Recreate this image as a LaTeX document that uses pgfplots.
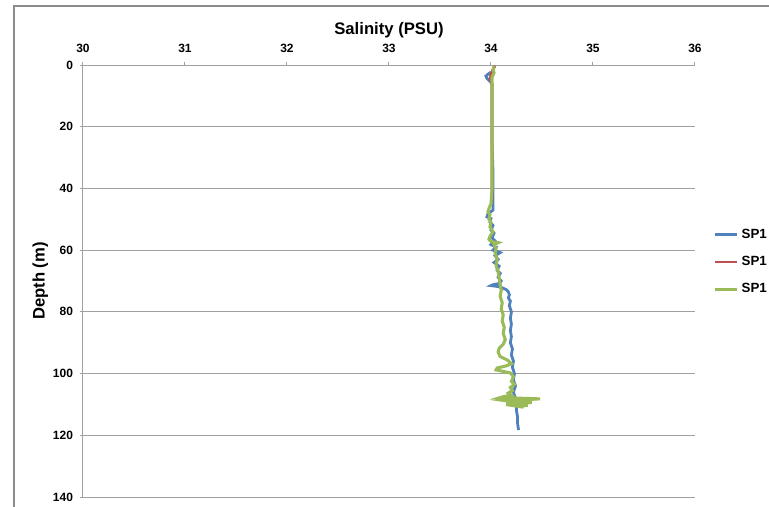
\documentclass[border=0pt]{standalone}
\usepackage{fontspec}
\setmainfont{Liberation Sans}
\usepackage{pgfplots}
\pgfplotsset{compat=1.18}
\usetikzlibrary{calc}

\definecolor{sblue}{RGB}{79,129,189}
\definecolor{sred}{RGB}{192,80,77}
\definecolor{sgreen}{RGB}{155,187,89}
\definecolor{gridgray}{RGB}{160,160,160}

\begin{document}
\begin{tikzpicture}
\begin{axis}[
    name=ax,
    scale only axis,
    width=459pt, height=324pt,
    xmin=30, xmax=36,
    ymin=0, ymax=140,
    y dir=reverse,
    axis x line*=top,
    axis y line*=left,
    xtick={30,31,...,36},
    ytick={0,20,...,140},
    ymajorgrids,
    grid style={gridgray, line width=0.75pt},
    axis line style={gridgray, line width=0.75pt},
    tick style={gridgray, line width=0.75pt},
    tick align=outside,
    major tick length=2.5pt,
    /pgf/number format/assume math mode=true,
    tick label style={font=\bfseries\fontsize{9}{10}\selectfont},
    xticklabel style={yshift=3.5pt},
    yticklabel style={xshift=-1.5pt},
    every axis x label/.style={at={(axis description cs:0.5,1)}, yshift=26pt, anchor=center},
    every axis y label/.style={at={(axis description cs:0,0.5)}, xshift=-32pt, rotate=90, anchor=center},
    xlabel={\bfseries\fontsize{12.5}{14}\selectfont Salinity (PSU)},
    ylabel={\bfseries\fontsize{12.5}{14}\selectfont Depth (m)},
    legend style={at={(axis description cs:1,0.544)}, anchor=west, xshift=10.5pt,
        draw=none, fill=none, font=\bfseries\fontsize{10}{12}\selectfont,
        row sep=8pt},
    legend cell align=left,
    legend image code/.code={\draw[#1] (0pt,0pt) -- (17pt,0pt);},
]
\addplot[sblue, line width=2.1pt] coordinates {
(34.00,2.3) (33.97,3.0) (33.95,3.6) (33.96,4.3) (33.98,5.0) (34.00,5.6) (34.01,6.5)
(34.01,15) (34.01,25) (34.02,35) (34.02,42) (34.02,47) (33.97,48.3) (33.96,49.2)
(34.00,49.8) (33.99,51) (34.02,52) (34.00,53.5) (34.03,54.5) (34.01,56) (34.04,57)
(34.00,58.2) (34.05,59) (34.02,60) (34.09,60.8) (34.04,61.8) (34.07,63) (34.03,64)
(34.08,65.2) (34.06,66.5) (34.09,67.5) (34.07,68.8) (34.10,70) (34.08,70.8)
(34.02,71.2) (34.00,71.5) (34.07,71.8) (34.11,72.2) (34.15,72.8) (34.17,73.5)
(34.18,74.5) (34.17,75.5) (34.19,76.5) (34.18,78) (34.20,80) (34.19,82) (34.20,84)
(34.19,86) (34.20,88) (34.19,90) (34.21,92) (34.20,94) (34.22,96) (34.21,98)
(34.23,100) (34.22,102) (34.24,104) (34.22,106) (34.24,108) (34.25,110)
(34.25,112) (34.26,114) (34.26,116) (34.27,118.3)
};
\addlegendentry{SP1}
\addplot[sred, line width=2.1pt] coordinates {
(34.04,0.3) (34.03,0.8) (34.02,1.5) (34.00,3) (33.99,4.5) (34.01,6)
(34.01,15) (34.01,30) (34.01,44)
};
\addlegendentry{SP1}
\addplot[sgreen, line width=2.3pt] coordinates {
(34.03,0.4) (34.02,1.5) (34.03,2.5) (34.01,4) (34.01,10) (34.01,20) (34.01,30)
(34.01,40) (34.00,45) (33.98,46.5) (33.97,47.5) (33.99,48.5) (33.98,50) (34.00,51)
(33.99,52.5) (34.02,54) (33.99,55.5) (33.98,56.5) (34.00,57.2) (34.07,57.6)
(34.03,58.2) (34.05,59.5) (34.04,61) (34.06,63) (34.05,65) (34.07,67) (34.08,69)
(34.09,71) (34.10,73) (34.09,75) (34.11,77) (34.10,79) (34.12,81) (34.11,83)
(34.13,85) (34.12,87) (34.14,89) (34.12,90.5) (34.08,91.8) (34.07,93) (34.09,94.5)
(34.16,95.6) (34.20,96.8) (34.15,97.5) (34.06,98.2) (34.05,98.8) (34.12,99.3)
(34.19,99.8) (34.22,101) (34.20,102.5) (34.23,103.5) (34.19,104.5) (34.21,105.5)
(34.17,106.3) (34.20,107) (34.12,107.5) (34.08,107.9) (34.30,108.0) (34.48,108.2)
(34.30,108.5) (34.14,108.8) (34.20,109.1) (34.40,109.4) (34.24,109.7) (34.15,110)
(34.36,110.3) (34.26,110.6) (34.32,110.9)
};
\addlegendentry{SP1}
\end{axis}
\pgfresetboundingbox
\path[use as bounding box] ($(ax.south west)+(-62.25pt,-7.5pt)$) rectangle ($(ax.north west)+(514.5pt,48.75pt)$);
\draw[black!45, line width=0.9pt] ($(ax.south west)+(-51.75pt,-30pt)$) rectangle ($(ax.north west)+(540pt,44.25pt)$);
\end{tikzpicture}
\end{document}
